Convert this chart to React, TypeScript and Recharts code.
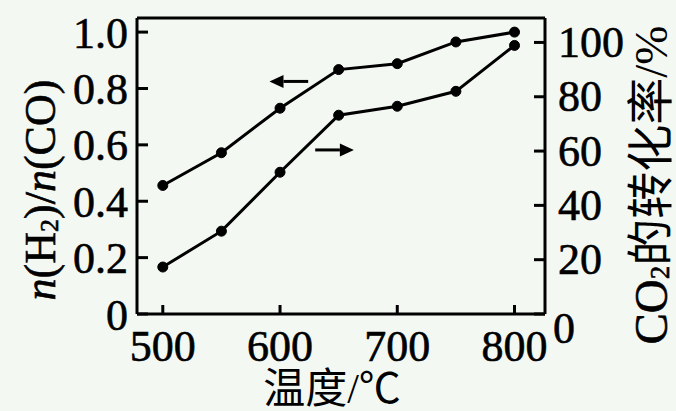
import React from 'react';
import { ComposedChart, Line, XAxis, YAxis, ReferenceLine, Label } from 'recharts';

const temperatures = [500, 550, 600, 650, 700, 750, 800];
const h2CoRatio = [0.456, 0.572, 0.73, 0.867, 0.888, 0.965, 1.0];
const co2Conversion = [17.3, 30.5, 52.2, 73.2, 76.5, 82, 98.9];
const xTicks = [500, 600, 700, 800];
const leftTicks = [0, 0.2, 0.4, 0.6, 0.8, 1.0];
const rightTicks = [0, 20, 40, 60, 80, 100];
const leftArrow = [{ x: 624, y: 0.825 }, { x: 591, y: 0.825 }];
const rightArrow = [{ x: 630, y: 0.582 }, { x: 663, y: 0.582 }];

const data = temperatures.map((t, i) => ({ t, ratio: h2CoRatio[i], conv: co2Conversion[i] }));

const FONT = "'Liberation Serif', 'Noto Sans CJK SC', serif";
const FS = 44;
const TEXT_STROKE = 0.6;

const arrowShape = (props: any) => {
  const { x1, y1, x2, y2 } = props;
  const dx = x2 - x1;
  const dy = y2 - y1;
  const len = Math.sqrt(dx * dx + dy * dy) || 1;
  const ux = dx / len;
  const uy = dy / len;
  const hl = 14;
  const hw = 6.5;
  const bx = x2 - ux * hl;
  const by = y2 - uy * hl;
  return (
    <g>
      <line x1={x1} y1={y1} x2={bx} y2={by} stroke="#000" strokeWidth={3} />
      <polygon
        points={`${x2},${y2} ${bx - uy * hw},${by + ux * hw} ${bx + uy * hw},${by - ux * hw}`}
        fill="#000"
      />
    </g>
  );
};

const RightTick = (props: any) => {
  const { x, y, payload } = props;
  const isZero = payload.value === 0;
  return (
    <text
      x={x + (isZero ? -5 : 0)}
      y={y + (isZero ? 14 : 0)}
      textAnchor="start"
      dominantBaseline="central"
      fontSize={FS}
      fontFamily={FONT}
      fill="#000"
      stroke="#000"
      strokeWidth={TEXT_STROKE}
    >
      {payload.value}
    </text>
  );
};

const LeftLabel = (props: any) => {
  const vb = props.viewBox || { x: 0, y: 18, width: 137, height: 296 };
  const cx = vb.x + 40;
  const cy = vb.y + vb.height / 2 + 24;
  return (
    <text
      x={cx}
      y={cy}
      transform={`rotate(-90, ${cx}, ${cy})`}
      textAnchor="middle"
      dominantBaseline="central"
      fontSize={FS}
      fontFamily={FONT}
      fill="#000"
      stroke="#000"
      strokeWidth={TEXT_STROKE}
    >
      <tspan fontStyle="italic">n</tspan>
      <tspan>(H</tspan>
      <tspan fontSize={26} dy={9}>2</tspan>
      <tspan dy={-9}>)/</tspan>
      <tspan fontStyle="italic">n</tspan>
      <tspan>(CO)</tspan>
    </text>
  );
};

const RightLabel = (props: any) => {
  const vb = props.viewBox || { x: 545, y: 18, width: 131, height: 296 };
  const cx = vb.x + 106;
  const cy = vb.y + vb.height / 2 + 19;
  return (
    <text
      x={cx}
      y={cy}
      transform={`rotate(-90, ${cx}, ${cy})`}
      textAnchor="middle"
      dominantBaseline="central"
      fontSize={47}
      fontFamily={FONT}
      fill="#000"
    >
      <tspan stroke="#000" strokeWidth={TEXT_STROKE}>CO</tspan>
      <tspan fontSize={27} dy={9} stroke="#000" strokeWidth={TEXT_STROKE}>2</tspan>
      <tspan dy={-9}>的转化率/%</tspan>
    </text>
  );
};

const BottomLabel = (props: any) => {
  const vb = props.viewBox || { x: 137, y: 314, width: 408, height: 97 };
  const cx = vb.x + vb.width / 2 - 9;
  const cy = vb.y + 75;
  return (
    <text
      x={cx}
      y={cy}
      textAnchor="middle"
      dominantBaseline="central"
      fontSize={42}
      fontFamily={FONT}
      fill="#000"
    >
      温度/℃
    </text>
  );
};

const tickStyle = {
  fontSize: FS,
  fill: '#000',
  fontFamily: FONT,
  stroke: '#000',
  strokeWidth: TEXT_STROKE,
};

export default function App() {
  return (
    <div
      style={{
        position: 'absolute',
        left: 0,
        top: 0,
        width: 676,
        height: 411,
        background: '#f3f8f3',
        fontFamily: FONT,
      }}
    >
      <ComposedChart
        width={676}
        height={411}
        data={data}
        margin={{ top: 18, right: 0, bottom: 0, left: 0 }}
      >
        <XAxis
          dataKey="t"
          type="number"
          domain={[478, 826]}
          ticks={xTicks}
          height={97}
          tickSize={-9}
          tickMargin={25}
          axisLine={{ stroke: '#000', strokeWidth: 3 }}
          tickLine={{ stroke: '#000', strokeWidth: 3 }}
          tick={tickStyle}
          interval={0}
        >
          <Label content={<BottomLabel />} />
        </XAxis>
        <YAxis
          yAxisId="left"
          orientation="left"
          type="number"
          domain={[0, 1.05]}
          ticks={leftTicks}
          width={137}
          tickSize={-11}
          tickMargin={20}
          tickFormatter={(v: number) => (v === 0 ? '0' : v.toFixed(1))}
          axisLine={{ stroke: '#000', strokeWidth: 3 }}
          tickLine={{ stroke: '#000', strokeWidth: 3 }}
          tick={tickStyle}
          interval={0}
        >
          <Label content={<LeftLabel />} />
        </YAxis>
        <YAxis
          yAxisId="right"
          orientation="right"
          type="number"
          domain={[0, 109]}
          ticks={rightTicks}
          width={131}
          tickSize={-11}
          tickMargin={24}
          axisLine={{ stroke: '#000', strokeWidth: 3 }}
          tickLine={{ stroke: '#000', strokeWidth: 3 }}
          tick={<RightTick />}
          interval={0}
        >
          <Label content={<RightLabel />} />
        </YAxis>
        <ReferenceLine yAxisId="left" y={1.05} stroke="#000" strokeWidth={3} />
        <ReferenceLine yAxisId="left" segment={leftArrow} shape={arrowShape} />
        <ReferenceLine yAxisId="left" segment={rightArrow} shape={arrowShape} />
        <Line
          yAxisId="left"
          dataKey="ratio"
          stroke="#000"
          strokeWidth={3}
          dot={{ r: 5, fill: '#000', stroke: '#000', strokeWidth: 1 }}
          isAnimationActive={false}
        />
        <Line
          yAxisId="right"
          dataKey="conv"
          stroke="#000"
          strokeWidth={3}
          dot={{ r: 5, fill: '#000', stroke: '#000', strokeWidth: 1 }}
          isAnimationActive={false}
        />
      </ComposedChart>
    </div>
  );
}
